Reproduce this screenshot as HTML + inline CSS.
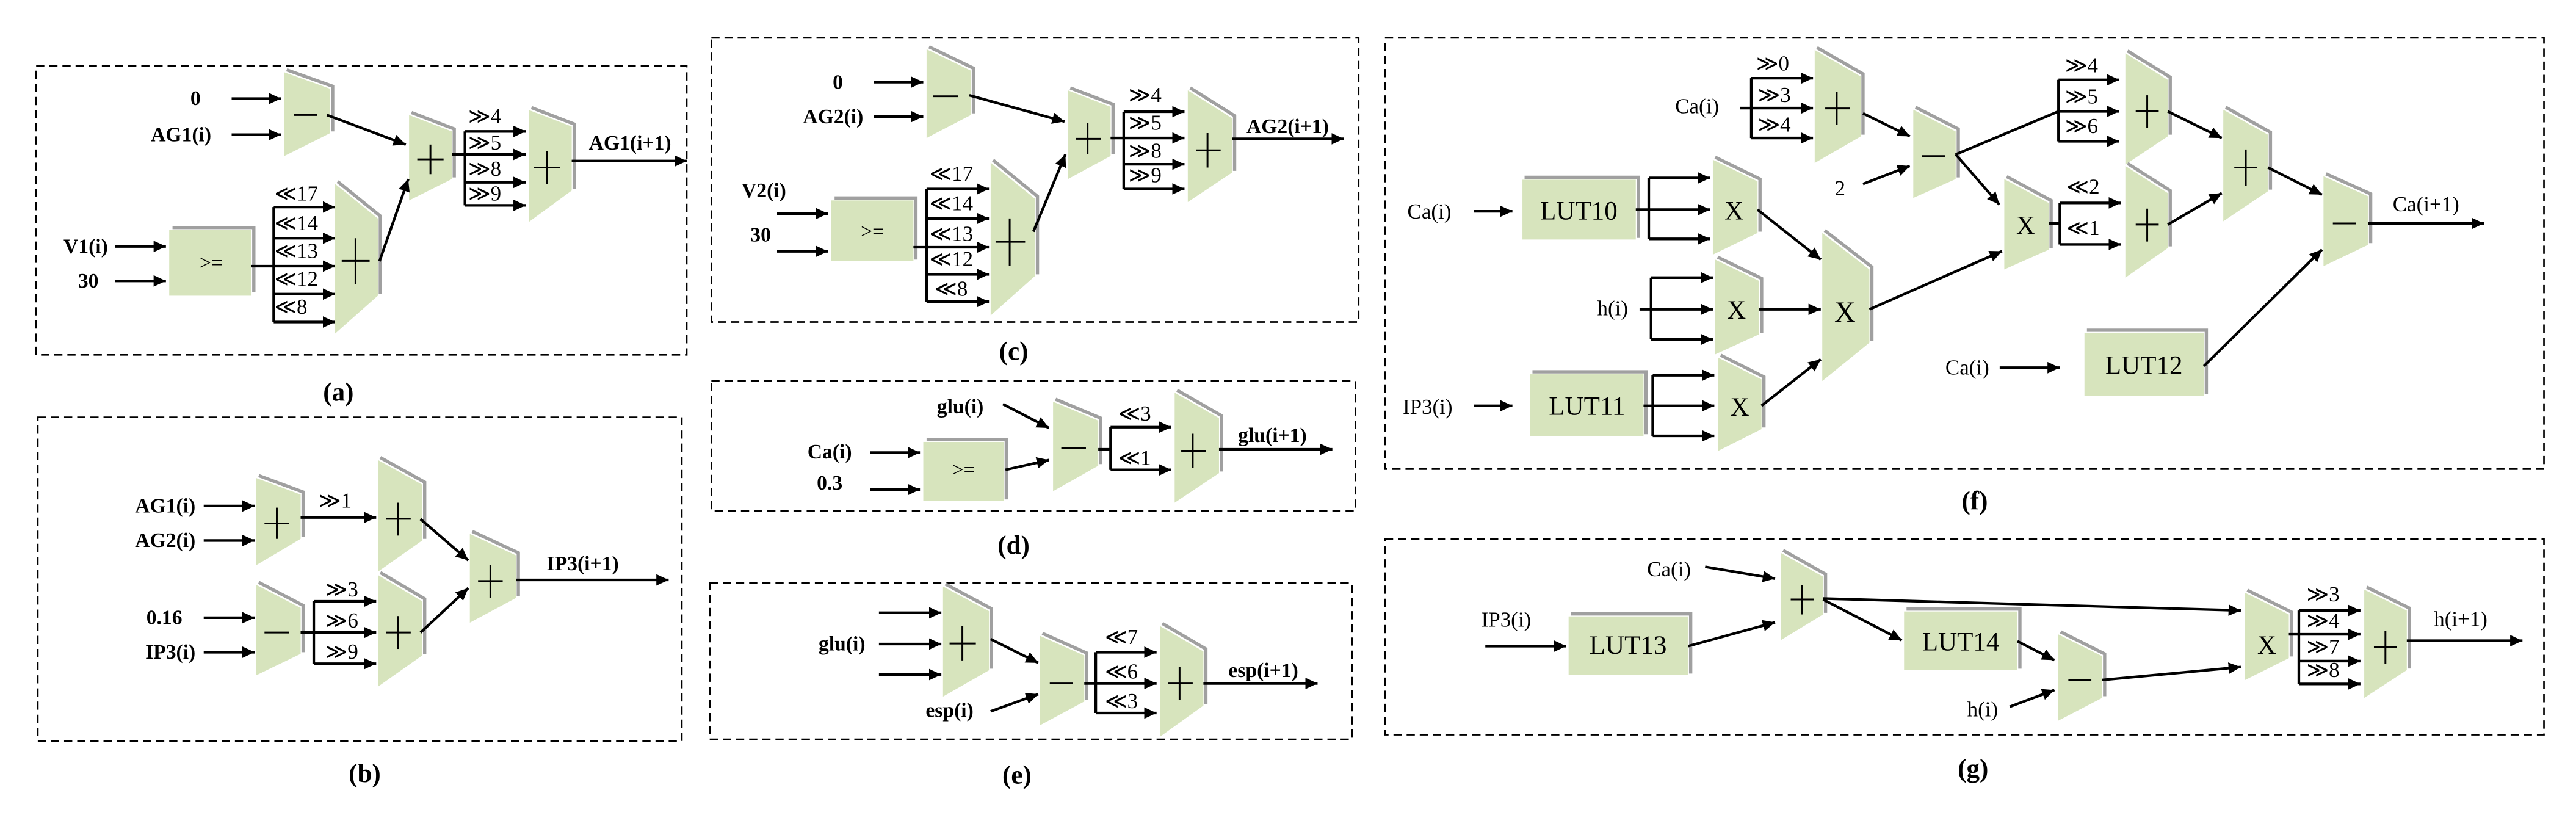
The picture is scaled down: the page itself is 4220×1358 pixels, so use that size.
<!DOCTYPE html>
<html><head><meta charset="utf-8"><style>
html,body{margin:0;padding:0;background:#fff;}
svg{display:block;}
.b{fill:#d7e4bd;stroke:none}
.s{fill:none;stroke:#a0a0a0;stroke-width:2}
.l{fill:none;stroke:#000;stroke-width:1.6}
.a{fill:none;stroke:#000;stroke-width:1.6;marker-end:url(#ah)}
.o{fill:none;stroke:#000;stroke-width:1.1}
.d{fill:none;stroke:#000;stroke-width:1;stroke-dasharray:5 3}
text{font-family:"Liberation Serif","DejaVu Serif",serif;font-weight:bold;font-size:12.5px;fill:#000}
.m{text-anchor:middle}
.r{text-anchor:end}
.sh{font-size:13px;font-weight:normal}
.cap{font-size:16px;text-anchor:middle}
.lut{font-size:16px;text-anchor:middle;font-weight:normal}
.ge{font-size:13px;font-weight:normal;text-anchor:middle}
</style></head><body>
<svg width="4220" height="1358" viewBox="0 0 1568 504.6" preserveAspectRatio="none" xmlns="http://www.w3.org/2000/svg">
<defs><marker id="ah" markerUnits="userSpaceOnUse" markerWidth="8" markerHeight="8" refX="7.5" refY="3.5" orient="auto"><path d="M0,0 L7.5,3.5 L0,7 z" fill="#000"/></marker></defs>

<!-- ================= (a) ================= -->
<rect class="d" x="22" y="40" width="396" height="176"/>
<polyline class="s" points="174.5,42.5 202.5,52.5 202.5,80"/><polygon class="b" points="173,44 201,54 201,81 173,95"/>
<line class="o" x1="179" y1="70" x2="193" y2="70"/>
<text x="119" y="64" class="m">0</text><text x="128.6" y="86" class="r">AG1(i)</text>
<path class="a" d="M141,60 L171,60"/><path class="a" d="M141,82 L171,82"/>
<path class="a" d="M199,70 L247,88"/>
<polyline class="s" points="250.5,68.5 276.5,78.5 276.5,108"/><polygon class="b" points="249,70 275,80 275,109 249,122"/>
<line class="o" x1="254" y1="97" x2="270" y2="97"/><line class="o" x1="262" y1="88" x2="262" y2="106"/>
<path class="l" d="M275,94 L283,94 M283,80 L283,125"/>
<path class="a" d="M283,80 L320,80"/><path class="a" d="M283,94 L320,94"/><path class="a" d="M283,111 L320,111"/><path class="a" d="M283,125 L320,125"/>
<text x="285" y="75" class="sh">≫4</text><text x="285" y="91" class="sh">≫5</text><text x="285" y="107" class="sh">≫8</text><text x="285" y="122" class="sh">≫9</text>
<polyline class="s" points="323.5,65.5 349.5,75.5 349.5,115"/><polygon class="b" points="322,67 348,77 348,116 322,135"/>
<line class="o" x1="325" y1="102" x2="341" y2="102"/><line class="o" x1="333" y1="92" x2="333" y2="112"/>
<path class="a" d="M348,98 L418,98"/><text x="383.5" y="91" class="m">AG1(i+1)</text>
<polyline class="s" points="105,138.5 154.5,138.5 154.5,178"/><rect class="b" x="103" y="140" width="50" height="40"/>
<text x="128.5" y="164" class="m" style="font-weight:normal">&gt;=</text>
<text x="65.7" y="154" class="r">V1(i)</text><text x="60" y="175" class="r">30</text>
<path class="a" d="M70,150 L101,150"/><path class="a" d="M70,171 L101,171"/>
<path class="l" d="M153,162 L166.6,162 M166.6,126 L166.6,196"/>
<path class="a" d="M166.6,126 L204,126"/><path class="a" d="M166.6,145 L204,145"/><path class="a" d="M166.6,162 L204,162"/><path class="a" d="M166.6,179 L204,179"/><path class="a" d="M166.6,196 L204,196"/>
<text x="167" y="122" class="sh">≪17</text><text x="167" y="140" class="sh">≪14</text><text x="167" y="157" class="sh">≪13</text><text x="167" y="174" class="sh">≪12</text><text x="167" y="191" class="sh">≪8</text>
<polyline class="s" points="205.5,110.5 231.5,131.5 231.5,179"/><polygon class="b" points="204,112 230,133 230,180 204,203"/>
<line class="o" x1="208" y1="158.8" x2="225" y2="158.8"/><line class="o" x1="216.4" y1="145" x2="216.4" y2="173"/>
<path class="a" d="M231,159 L248.5,109"/>
<text x="206" y="244" class="cap">(a)</text>

<!-- ================= (b) ================= -->
<rect class="d" x="23" y="254" width="392" height="197"/>
<polyline class="s" points="157.5,289.5 184.5,299.5 184.5,327"/><polygon class="b" points="156,291 183,301 183,328 156,344"/>
<line class="o" x1="161" y1="318.6" x2="176" y2="318.6"/><line class="o" x1="168.5" y1="309" x2="168.5" y2="328"/>
<text x="119" y="312" class="r">AG1(i)</text><text x="119" y="333" class="r">AG2(i)</text>
<path class="a" d="M124,308 L155,308"/><path class="a" d="M124,329 L155,329"/>
<path class="a" d="M183,315 L229,315"/><text x="204" y="309" class="sh m">≫1</text>
<polyline class="s" points="231.5,278.5 258.5,293.5 258.5,328"/><polygon class="b" points="230,280 257,295 257,329 230,348"/>
<line class="o" x1="235" y1="315.8" x2="250" y2="315.8"/><line class="o" x1="242.4" y1="306" x2="242.4" y2="326"/>
<polyline class="s" points="157.5,354.5 184.5,368.5 184.5,397"/><polygon class="b" points="156,356 183,370 183,398 156,411"/>
<line class="o" x1="161" y1="385" x2="176" y2="385"/>
<text x="100" y="380" class="m">0.16</text><text x="119" y="401" class="r">IP3(i)</text>
<path class="a" d="M124,376 L155,376"/><path class="a" d="M124,397 L155,397"/>
<path class="l" d="M183,385 L191,385 M191,366 L191,404"/>
<path class="a" d="M191,366 L229,366"/><path class="a" d="M191,385 L229,385"/><path class="a" d="M191,404 L229,404"/>
<text x="208" y="363" class="sh m">≫3</text><text x="208" y="382" class="sh m">≫6</text><text x="208" y="401" class="sh m">≫9</text>
<polyline class="s" points="231.5,348.5 258.5,364.5 258.5,398"/><polygon class="b" points="230,350 257,366 257,399 230,418"/>
<line class="o" x1="235" y1="385" x2="250" y2="385"/><line class="o" x1="242.4" y1="375" x2="242.4" y2="395"/>
<polyline class="s" points="287.5,323.5 315.5,336.5 315.5,363"/><polygon class="b" points="286,325 314,338 314,364 286,379"/>
<line class="o" x1="291" y1="353.7" x2="306" y2="353.7"/><line class="o" x1="298.5" y1="344" x2="298.5" y2="364"/>
<path class="a" d="M256,316 L285,341"/><path class="a" d="M256,385 L285,358"/>
<path class="a" d="M314,353 L407,353"/><text x="354.7" y="347" class="m">IP3(i+1)</text>
<text x="222" y="476" class="cap">(b)</text>

<!-- ================= (c) ================= -->
<rect class="d" x="433" y="23" width="394" height="173"/>
<polyline class="s" points="565.5,28.5 592.5,41.5 592.5,69"/><polygon class="b" points="564,30 591,43 591,70 564,84"/>
<line class="o" x1="568" y1="58.6" x2="583" y2="58.6"/>
<text x="510" y="54" class="m">0</text><text x="525.5" y="75" class="r">AG2(i)</text>
<path class="a" d="M532,50 L562,50"/><path class="a" d="M532,71 L562,71"/>
<path class="a" d="M590,58 L648,74"/>
<polyline class="s" points="651.5,53.5 677.5,63.5 677.5,94"/><polygon class="b" points="650,55 676,65 676,95 650,109"/>
<line class="o" x1="655" y1="84.5" x2="670" y2="84.5"/><line class="o" x1="662" y1="75" x2="662" y2="94"/>
<path class="l" d="M676,84 L684,84 M684,68 L684,115"/>
<path class="a" d="M684,68 L721,68"/><path class="a" d="M684,84 L721,84"/><path class="a" d="M684,100 L721,100"/><path class="a" d="M684,115 L721,115"/>
<text x="697" y="62" class="sh m">≫4</text><text x="697" y="79" class="sh m">≫5</text><text x="697" y="96" class="sh m">≫8</text><text x="697" y="111" class="sh m">≫9</text>
<polyline class="s" points="724.5,53.5 751.5,70.5 751.5,104"/><polygon class="b" points="723,55 750,72 750,105 723,123"/>
<line class="o" x1="728" y1="91.5" x2="743" y2="91.5"/><line class="o" x1="735" y1="81" x2="735" y2="102"/>
<path class="a" d="M750,84.5 L818,84.5"/><text x="783.8" y="81" class="m">AG2(i+1)</text>
<polyline class="s" points="508,120.5 557.5,120.5 557.5,158"/><rect class="b" x="506" y="122" width="50" height="37"/>
<text x="531" y="145" class="m" style="font-weight:normal">&gt;=</text>
<text x="465" y="120" class="m">V2(i)</text><text x="463" y="147" class="m">30</text>
<path class="a" d="M473,130 L504,130"/><path class="a" d="M473,153 L504,153"/>
<path class="l" d="M556,150.5 L564,150.5 M564,115 L564,183.6"/>
<path class="a" d="M564,115 L602,115"/><path class="a" d="M564,133 L602,133"/><path class="a" d="M564,150.5 L602,150.5"/><path class="a" d="M564,167 L602,167"/><path class="a" d="M564,183.6 L602,183.6"/>
<text x="579" y="110" class="sh m">≪17</text><text x="579" y="128" class="sh m">≪14</text><text x="579" y="146.5" class="sh m">≪13</text><text x="579" y="162" class="sh m">≪12</text><text x="579" y="180" class="sh m">≪8</text>
<polyline class="s" points="604.5,97.5 631.5,119.5 631.5,167"/><polygon class="b" points="603,99 630,121 630,168 603,192"/>
<line class="o" x1="606" y1="147.2" x2="624" y2="147.2"/><line class="o" x1="614.6" y1="133" x2="614.6" y2="162"/>
<path class="a" d="M629,141 L648.5,94"/>
<text x="617" y="219" class="cap">(c)</text>

<!-- ================= (d) ================= -->
<rect class="d" x="433" y="232" width="392" height="79"/>
<polyline class="s" points="564,267.5 612.5,267.5 612.5,304"/><rect class="b" x="562" y="269" width="49" height="36"/>
<text x="586.5" y="290" class="m" style="font-weight:normal">&gt;=</text>
<text x="505" y="279" class="m">Ca(i)</text><text x="505" y="298" class="m">0.3</text>
<path class="a" d="M529.5,275.5 L560,275.5"/><path class="a" d="M529.5,298 L560,298"/>
<text x="584.5" y="251.5" class="m">glu(i)</text>
<path class="a" d="M610.5,246 L638.5,260.5"/><path class="a" d="M612,286 L638.5,280"/>
<polyline class="s" points="642.5,243 670,254.5 670,282.5"/><polygon class="b" points="641,244.5 668.5,256 668.5,283.5 641,299"/>
<line class="o" x1="646" y1="272.8" x2="661" y2="272.8"/>
<path class="l" d="M668.5,273.5 L676,273.5 M676,260 L676,286"/>
<path class="a" d="M676,260 L713,260"/><path class="a" d="M676,286 L713,286"/>
<text x="690.6" y="256" class="sh m">≪3</text><text x="690.6" y="283" class="sh m">≪1</text>
<polyline class="s" points="716.5,237.5 743.5,253 743.5,287"/><polygon class="b" points="715,239 742,254.5 742,288 715,306"/>
<line class="o" x1="719" y1="274.4" x2="734" y2="274.4"/><line class="o" x1="726" y1="264" x2="726" y2="285"/>
<path class="a" d="M742,273.5 L811,273.5"/><text x="774.5" y="269" class="m">glu(i+1)</text>
<text x="617" y="337" class="cap">(d)</text>

<!-- ================= (e) ================= -->
<rect class="d" x="432" y="355" width="391" height="95"/>
<polyline class="s" points="575.5,355.5 603.5,370.5 603.5,407"/><polygon class="b" points="574,357 602,372 602,408 574,424"/>
<line class="o" x1="578" y1="391.7" x2="594" y2="391.7"/><line class="o" x1="585.8" y1="381" x2="585.8" y2="402"/>
<path class="a" d="M535,373 L573,373"/><path class="a" d="M535,392 L573,392"/><path class="a" d="M535,410.6 L573,410.6"/>
<text x="512.5" y="396" class="m">glu(i)</text>
<polyline class="s" points="634.5,385.5 661.5,397.5 661.5,426"/><polygon class="b" points="633,387 660,399 660,427 633,441.5"/>
<line class="o" x1="639" y1="416" x2="653" y2="416"/>
<path class="a" d="M603,389 L632,403.5"/><path class="a" d="M603,433 L632,422.5"/>
<text x="578" y="436.5" class="m">esp(i)</text>
<path class="l" d="M660,416 L667,416 M667,397 L667,434"/>
<path class="a" d="M667,397 L704,397"/><path class="a" d="M667,416 L704,416"/><path class="a" d="M667,434 L704,434"/>
<text x="682.6" y="392" class="sh m">≪7</text><text x="682.6" y="413" class="sh m">≪6</text><text x="682.6" y="431" class="sh m">≪3</text>
<polyline class="s" points="707.5,379.5 734,395 734,428.5"/><polygon class="b" points="706,381 732.5,396.5 732.5,429.5 706,448.5"/>
<line class="o" x1="711" y1="416" x2="726" y2="416"/><line class="o" x1="718" y1="406" x2="718" y2="426"/>
<path class="a" d="M732.5,416 L802,416"/><text x="769" y="412" class="m">esp(i+1)</text>
<text x="619" y="477" class="cap">(e)</text>

<!-- ================= (f) ================= -->
<rect class="d" x="843" y="23" width="705.5" height="262.5"/>
<polyline class="s" points="1106,29 1134,45 1134,82"/><polygon class="b" points="1104.6,30.4 1132.7,46.6 1132.7,83 1104.6,99.2"/>
<line class="o" x1="1111" y1="66" x2="1126" y2="66"/><line class="o" x1="1118" y1="56" x2="1118" y2="76"/>
<text x="1033" y="69" class="ge">Ca(i)</text>
<path class="l" d="M1059,65.8 L1066,65.8 M1066,47.6 L1066,84"/>
<path class="a" d="M1066,47.6 L1103.6,47.6"/><path class="a" d="M1066,65.8 L1103.6,65.8"/><path class="a" d="M1066,84 L1103.6,84"/>
<text x="1079" y="43" class="sh m">≫0</text><text x="1080" y="62" class="sh m">≫3</text><text x="1080" y="80" class="sh m">≫4</text>
<polyline class="s" points="1166,65.3 1192,78.5 1192,108"/><polygon class="b" points="1164.6,66.8 1190.4,80 1190.4,109 1164.6,120.5"/>
<line class="o" x1="1170" y1="95" x2="1184" y2="95"/>
<path class="a" d="M1134,69 L1162.5,83"/>
<text x="1120" y="119" class="ge">2</text><path class="a" d="M1134,112 L1162.5,101"/>
<path class="l" d="M1190.4,94 L1253,67.8"/><path class="a" d="M1190.4,94 L1217,124.5"/>
<path class="l" d="M1253,48.6 L1253,86"/>
<path class="a" d="M1253,48.6 L1290,48.6"/><path class="a" d="M1253,67.8 L1290,67.8"/><path class="a" d="M1253,86 L1290,86"/>
<text x="1267" y="44" class="sh m">≫4</text><text x="1267" y="63" class="sh m">≫5</text><text x="1267" y="81" class="sh m">≫6</text>
<polyline class="s" points="1295,31 1321,47 1321,82"/><polygon class="b" points="1293.7,32.4 1319.5,48.6 1319.5,83 1293.7,100.2"/>
<line class="o" x1="1300" y1="67.8" x2="1314" y2="67.8"/><line class="o" x1="1307" y1="58" x2="1307" y2="78"/>
<polyline class="s" points="1221.5,107.5 1248.5,122 1248.5,151"/><polygon class="b" points="1220,109 1247,123.5 1247,152 1220,164"/>
<text x="1233" y="142.5" class="ge" style="font-size:16px">X</text>
<path class="l" d="M1247,136 L1253.8,136 M1253.8,123.5 L1253.8,148.8"/>
<path class="a" d="M1253.8,123.5 L1291,123.5"/><path class="a" d="M1253.8,148.8 L1291,148.8"/>
<text x="1268" y="118" class="sh m">≪2</text><text x="1268" y="143" class="sh m">≪1</text>
<polyline class="s" points="1295,99.5 1321,116 1321,150"/><polygon class="b" points="1293.7,101 1319.5,117.5 1319.5,151 1293.7,169"/>
<line class="o" x1="1300" y1="136.7" x2="1314" y2="136.7"/><line class="o" x1="1307" y1="127" x2="1307" y2="147"/>
<polyline class="s" points="1354.8,65.3 1382,80.5 1382,115.4"/><polygon class="b" points="1353.3,66.8 1380.5,82 1380.5,116.4 1353.3,134.7"/>
<line class="o" x1="1360" y1="102" x2="1374" y2="102"/><line class="o" x1="1367" y1="91" x2="1367" y2="113"/>
<path class="a" d="M1319.5,67.8 L1352.4,84"/><path class="a" d="M1319.5,136.7 L1352.4,117.5"/>
<polyline class="s" points="1415.8,105.8 1443,118 1443,148"/><polygon class="b" points="1414.3,107.3 1441.5,119.5 1441.5,149 1414.3,162"/>
<line class="o" x1="1420" y1="136" x2="1434" y2="136"/>
<path class="a" d="M1380.5,102 L1413.4,118.5"/>
<path class="a" d="M1441.5,136 L1512,136"/><text x="1476.7" y="128.5" class="ge">Ca(i+1)</text>
<polyline class="s" points="928,107.9 997.2,107.9 997.2,144.8"/><rect class="b" x="926.7" y="109.4" width="69" height="36.4"/>
<text x="961" y="133.5" class="lut">LUT10</text>
<text x="870" y="133" class="ge">Ca(i)</text><path class="a" d="M897,128.6 L920.6,128.6"/>
<path class="l" d="M995.7,127.6 L1003.6,127.6 M1003.6,108.3 L1003.6,145.4"/>
<path class="a" d="M1003.6,108.3 L1041,108.3"/><path class="a" d="M1003.6,127.6 L1041,127.6"/><path class="a" d="M1003.6,145.4 L1041,145.4"/>
<polyline class="s" points="1044,95.7 1071.3,109 1071.3,141"/><polygon class="b" points="1042.6,97.2 1069.8,110.4 1069.8,141.8 1042.6,155"/>
<text x="1055.5" y="133.5" class="ge" style="font-size:16px">X</text>
<text x="981.6" y="192" class="ge">h(i)</text>
<path class="l" d="M998,188.3 L1005,188.3 M1005,169 L1005,206.6"/>
<path class="a" d="M1005,169 L1042.6,169"/><path class="a" d="M1005,188.3 L1042.6,188.3"/><path class="a" d="M1005,206.6 L1042.6,206.6"/>
<polyline class="s" points="1045.5,156.5 1072.3,169.5 1072.3,202.5"/><polygon class="b" points="1044,158 1070.8,171 1070.8,203.5 1044,215.7"/>
<text x="1057" y="194" class="ge" style="font-size:16px">X</text>
<polyline class="s" points="932.8,226.3 1001.9,226.3 1001.9,264.3"/><rect class="b" x="931.4" y="227.8" width="69" height="37.5"/>
<text x="966" y="252.5" class="lut">LUT11</text>
<text x="869" y="252" class="ge">IP3(i)</text><path class="a" d="M897,247 L920.6,247"/>
<path class="l" d="M1000.4,247 L1006,247 M1006,228.4 L1006,265.3"/>
<path class="a" d="M1006,228.4 L1043.5,228.4"/><path class="a" d="M1006,247 L1043.5,247"/><path class="a" d="M1006,265.3 L1043.5,265.3"/>
<polyline class="s" points="1047.4,216.2 1073.7,229.4 1073.7,260.2"/><polygon class="b" points="1045.9,217.7 1072.2,230.9 1072.2,261.2 1045.9,274.4"/>
<text x="1059" y="253" class="ge" style="font-size:16px">X</text>
<polyline class="s" points="1110.7,140.3 1139.4,162.5 1139.4,207.6"/><polygon class="b" points="1109.2,141.8 1137.9,164 1137.9,208.6 1109.2,231.9"/>
<text x="1123" y="196" class="ge" style="font-size:18px">X</text>
<path class="a" d="M1069.8,127.6 L1108.3,158"/><path class="a" d="M1070.8,188.3 L1108.3,188.3"/><path class="a" d="M1072.2,247 L1108.3,218.7"/>
<path class="a" d="M1137.9,188.3 L1218.6,152.9"/>
<polyline class="s" points="1270.3,201 1343,201 1343,240"/><rect class="b" x="1268.8" y="202.5" width="72.7" height="38.5"/>
<text x="1305" y="227.5" class="lut">LUT12</text>
<text x="1197.5" y="228" class="ge">Ca(i)</text><path class="a" d="M1217.2,223.8 L1253.8,223.8"/>
<path class="a" d="M1341.5,222.8 L1413.4,151.9"/>
<text x="1202" y="310" class="cap">(f)</text>

<!-- ================= (g) ================= -->
<rect class="d" x="843" y="328" width="705.5" height="119.2"/>
<polyline class="s" points="956.3,373.7 1029.1,373.7 1029.1,410"/><rect class="b" x="954.8" y="375.2" width="72.8" height="35.7"/>
<text x="991" y="398" class="lut">LUT13</text>
<text x="916.8" y="381.5" class="ge">IP3(i)</text><path class="a" d="M904.1,393.3 L953.4,393.3"/>
<polyline class="s" points="1085.4,335 1111.2,349.5 1111.2,373"/><polygon class="b" points="1083.9,336.5 1109.7,351 1109.7,374 1083.9,389.7"/>
<line class="o" x1="1090" y1="364.9" x2="1104" y2="364.9"/><line class="o" x1="1097" y1="356" x2="1097" y2="374"/>
<text x="1015.9" y="350.8" class="ge">Ca(i)</text>
<path class="a" d="M1037.9,345 L1080.5,352.2"/><path class="a" d="M1027.6,393.3 L1080.5,378.8"/>
<polyline class="s" points="1160.5,370.7 1229.5,370.7 1229.5,407"/><rect class="b" x="1159" y="372.2" width="69" height="35.7"/>
<text x="1193.5" y="396" class="lut">LUT14</text>
<path class="a" d="M1109.7,364.9 L1157.6,389.7"/>
<path class="a" d="M1109.7,364.3 L1364,371.6"/>
<polyline class="s" points="1254.3,384.6 1281.1,398 1281.1,423.8"/><polygon class="b" points="1252.8,386.1 1279.6,399.4 1279.6,424.8 1252.8,438.7"/>
<line class="o" x1="1259" y1="413.9" x2="1273" y2="413.9"/>
<path class="a" d="M1228,390.3 L1250.5,401.8"/>
<text x="1206.8" y="436" class="ge">h(i)</text><path class="a" d="M1223.3,430.2 L1250.5,420"/>
<path class="a" d="M1279.6,413.9 L1364,406"/>
<polyline class="s" points="1367.9,359.2 1394.7,372.5 1394.7,399.6"/><polygon class="b" points="1366.4,360.7 1393.2,374 1393.2,400.6 1366.4,414"/>
<text x="1379.8" y="398" class="ge" style="font-size:16px">X</text>
<path class="l" d="M1393.2,386.1 L1399.3,386.1 M1399.3,371.6 L1399.3,416.3"/>
<path class="a" d="M1399.3,371.6 L1436.8,371.6"/><path class="a" d="M1399.3,386.1 L1436.8,386.1"/><path class="a" d="M1399.3,402.4 L1436.8,402.4"/><path class="a" d="M1399.3,416.3 L1436.8,416.3"/>
<text x="1414" y="366" class="sh m">≫3</text><text x="1414" y="382" class="sh m">≫4</text><text x="1414" y="398" class="sh m">≫7</text><text x="1414" y="412" class="sh m">≫8</text>
<polyline class="s" points="1440.6,357.4 1466.5,370.1 1466.5,406.9"/><polygon class="b" points="1439.1,358.9 1465,371.6 1465,407.9 1439.1,424.8"/>
<line class="o" x1="1445" y1="394" x2="1459" y2="394"/><line class="o" x1="1452" y1="384" x2="1452" y2="404"/>
<path class="a" d="M1465,390 L1535.4,390"/><text x="1497.8" y="381" class="ge">h(i+1)</text>
<text x="1201" y="473" class="cap">(g)</text>
</svg>
</body></html>
